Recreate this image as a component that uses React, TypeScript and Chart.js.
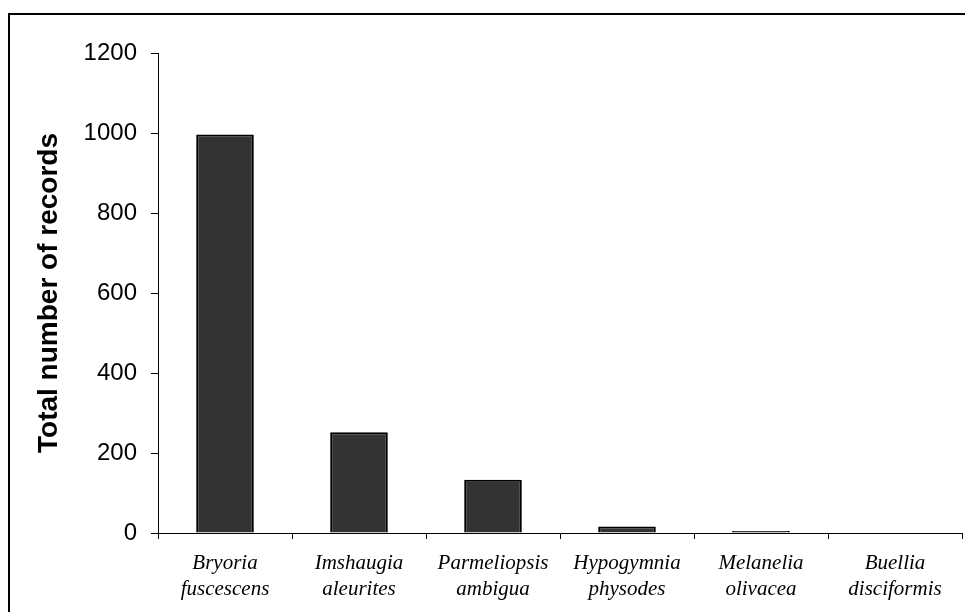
import React, { useEffect, useRef } from "react";
import { Chart, registerables } from "chart.js";

Chart.register(...registerables);

const categories: string[][] = [
  ["Bryoria", "fuscescens"],
  ["Imshaugia", "aleurites"],
  ["Parmeliopsis", "ambigua"],
  ["Hypogymnia", "physodes"],
  ["Melanelia", "olivacea"],
  ["Buellia", "disciformis"],
];
const records: number[] = [996, 252, 133, 16, 5, 0];
const yTitle = "Total number of records";
const yMin = 0;
const yMax = 1200;
const yStep = 200;

export default function App() {
  const ref = useRef<HTMLCanvasElement | null>(null);

  useEffect(() => {
    if (!ref.current) return;
    const chart = new Chart(ref.current, {
      type: "bar",
      data: {
        labels: categories,
        datasets: [
          {
            data: records,
            backgroundColor: "#333333",
            borderColor: "#000000",
            borderWidth: 2,
            categoryPercentage: 1,
            barPercentage: 0.43,
          },
        ],
      },
      options: {
        responsive: false,
        animation: false,
        devicePixelRatio: 1,
        layout: { padding: { top: 53, right: 3, bottom: 0, left: 0 } },
        plugins: { legend: { display: false }, tooltip: { enabled: false } },
        scales: {
          x: {
            grid: {
              display: true,
              drawOnChartArea: false,
              drawTicks: true,
              tickLength: 6,
              color: "#000",
              offset: true,
            },
            border: { display: true, color: "#000", width: 1 },
            ticks: {
              color: "#000",
              padding: 11,
              maxRotation: 0,
              autoSkip: false,
              font: { family: "'Liberation Serif', serif", style: "italic", size: 21, lineHeight: 1.24 },
            },
            afterFit: (s: any) => {
              s.height = 79;
            },
          },
          y: {
            min: yMin,
            max: yMax,
            ticks: {
              stepSize: yStep,
              color: "#000",
              padding: 14,
              font: { family: "'Liberation Sans', Arial, sans-serif", size: 24 },
              callback: (v: any) => String(v),
            },
            grid: {
              display: true,
              drawOnChartArea: false,
              drawTicks: true,
              tickLength: 7,
              color: "#000",
            },
            border: { display: true, color: "#000", width: 1 },
            title: {
              display: true,
              text: yTitle,
              color: "#000",
              padding: { top: 32, bottom: 0 },
              font: { family: "'Liberation Sans', Arial, sans-serif", size: 28, weight: "bold" },
            },
            afterFit: (s: any) => {
              s.width = 158;
            },
          },
        },
      },
    });
    return () => chart.destroy();
  }, []);

  return (
    <div style={{ position: "fixed", left: 0, top: 0, width: 965, height: 612, overflow: "hidden", background: "#fff" }}>
      <div
        style={{
          position: "absolute",
          left: 8,
          top: 13,
          width: 1000,
          height: 700,
          border: "2px solid #000",
        }}
      />
      <canvas ref={ref} width={965} height={612} style={{ position: "absolute", left: 0, top: 0 }} />
    </div>
  );
}
